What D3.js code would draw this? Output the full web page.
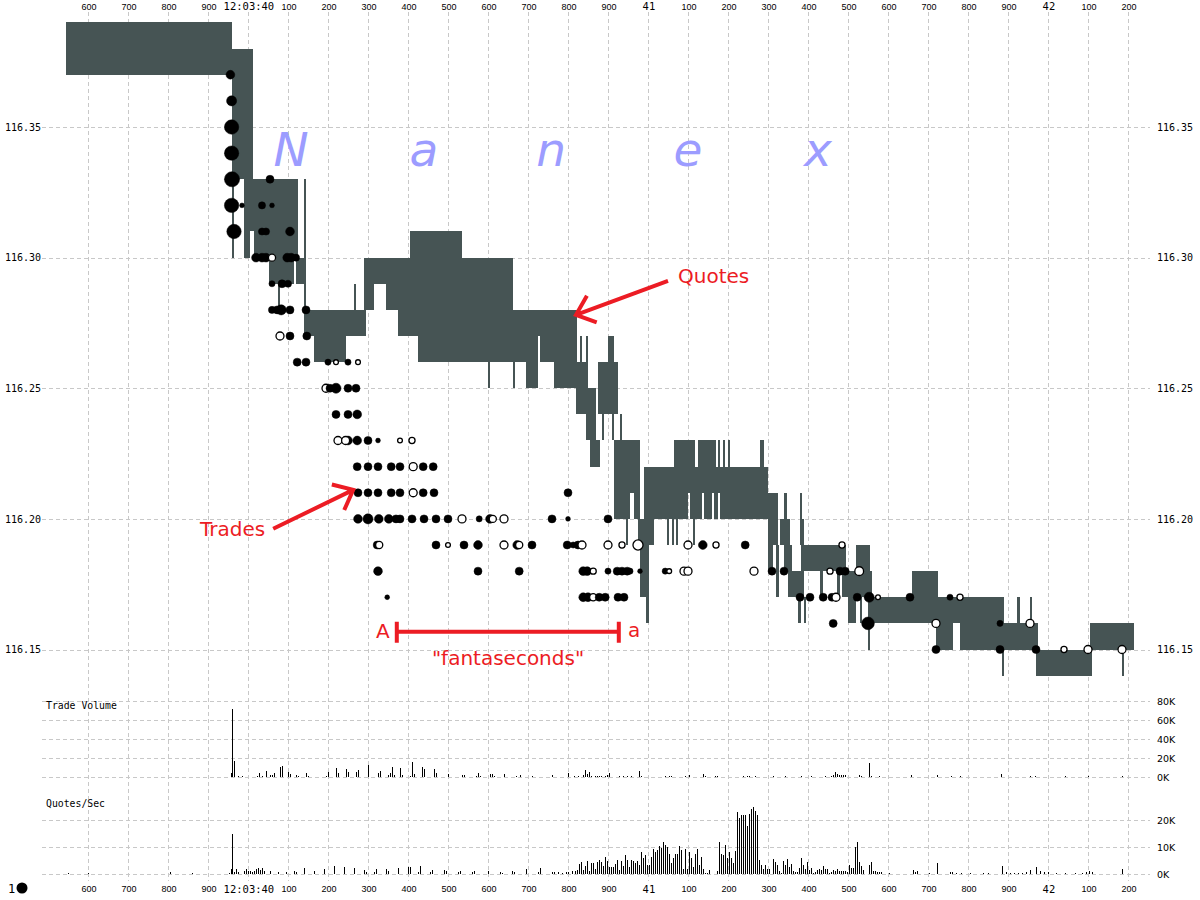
<!DOCTYPE html>
<html><head><meta charset="utf-8">
<script src="https://cdn.jsdelivr.net/npm/d3@7"></script>
<style>body{margin:0;background:#fff}svg{display:block}</style>
</head><body>
<svg id="c" width="1200" height="900"></svg>
<script>
// ---- time axis (ms from 12:03:40.000) ----
const tickMs = [-400,-300,-200,-100,0,100,200,300,400,500,600,700,800,900,1000,1100,1200,1300,1400,1500,1600,1700,1800,1900,2000,2100,2200];
const tickLabels = ["600","700","800","900","12:03:40","100","200","300","400","500","600","700","800","900","41","100","200","300","400","500","600","700","800","900","42","100","200"];
const priceTicks = [116.15,116.20,116.25,116.30,116.35];
const volTicks = [0,20,40,60,80];
const qpsTicks = [0,10,20];

// ---- quotes: [startMs, endMs, bid, ask] ----
const quotes = [
 [-456,-41,116.37,116.39],[-41,12,116.33,116.38],[-41,-36,116.30,116.33],[-11,4,116.30,116.33],[4,14,116.31,116.33],
 [14,124,116.30,116.33],[52,114,116.29,116.30],[119,141,116.29,116.30],[139,144,116.28,116.33],[74,79,116.28,116.29],
 [139,294,116.27,116.28],[164,244,116.26,116.27],[264,269,116.28,116.29],[289,314,116.28,116.30],[314,344,116.29,116.30],
 [344,374,116.28,116.30],[374,424,116.27,116.30],[424,662,116.26,116.30],[404,534,116.30,116.31],[662,724,116.26,116.28],
 [729,822,116.26,116.28],[724,729,116.27,116.28],[694,724,116.25,116.26],[764,822,116.25,116.26],[599,604,116.25,116.26],
 [662,667,116.25,116.26],[822,849,116.25,116.26],[829,834,116.26,116.27],[844,849,116.26,116.27],[819,869,116.24,116.25],
 [844,869,116.23,116.24],[854,879,116.22,116.23],[874,924,116.24,116.26],[899,914,116.26,116.27],[884,889,116.23,116.24],
 [909,914,116.23,116.24],[929,934,116.23,116.24],[914,979,116.21,116.23],[914,954,116.20,116.21],[964,979,116.20,116.21],
 [944,949,116.19,116.20],[974,979,116.19,116.20],[979,1002,116.17,116.20],[995,1002,116.16,116.17],[1002,1014,116.19,116.20],
 [989,1299,116.21,116.22],[989,1099,116.20,116.21],[1104,1134,116.20,116.21],[1139,1159,116.20,116.21],[1164,1174,116.20,116.21],
 [1179,1299,116.20,116.21],[1064,1116,116.22,116.23],[1124,1169,116.22,116.23],[1174,1179,116.22,116.23],[1186,1191,116.22,116.23],
 [1199,1204,116.22,116.23],[1279,1289,116.22,116.23],[1046,1051,116.19,116.20],[1059,1064,116.19,116.20],[1069,1074,116.19,116.20],
 [1111,1116,116.19,116.20],[1299,1324,116.19,116.21],[1329,1354,116.19,116.20],[1339,1347,116.20,116.21],[1299,1311,116.18,116.19],
 [1320,1327,116.17,116.19],[1339,1359,116.18,116.19],[1349,1389,116.17,116.18],[1374,1381,116.16,116.17],[1389,1394,116.16,116.17],
 [1379,1384,116.20,116.21],[1379,1389,116.19,116.20],[1381,1494,116.18,116.19],[1429,1436,116.17,116.18],[1471,1479,116.17,116.18],
 [1484,1559,116.17,116.18],[1499,1519,116.16,116.17],[1519,1554,116.18,116.19],[1529,1534,116.16,116.17],[1549,1554,116.15,116.16],
 [1549,1889,116.16,116.17],[1659,1724,116.17,116.18],[1719,1762,116.15,116.16],[1779,1974,116.15,116.16],[1884,1889,116.14,116.15],
 [1921,1929,116.16,116.17],[1954,1959,116.16,116.17],[1969,2109,116.14,116.15],[2104,2214,116.15,116.16],[2184,2189,116.14,116.15]
];

// ---- trades: [ms, price, size (00s), hollow] ----
const trades = [
 [-45,116.37,5,0],[-42,116.36,7,0],[-42,116.35,16,0],[-42,116.34,16,0],[-41,116.33,18,0],[54,116.33,4,0],
 [-42,116.32,16,0],[-16,116.32,1,0],[34,116.32,3,0],[59,116.32,1,0],
 [-36,116.31,16,0],[34,116.31,3,0],[44,116.31,3,0],[104,116.31,5,0],
 [19,116.30,5,0],[34,116.30,5,0],[44,116.30,5,0],[59,116.30,3,1],[97,116.30,5,0],[107,116.30,5,0],[119,116.30,3,0],
 [59,116.29,2,0],[84,116.29,4,0],[99,116.29,3,0],
 [59,116.28,3,0],[72,116.28,4,0],[82,116.28,7,0],[104,116.28,4,0],[144,116.28,4,0],
 [79,116.27,4,1],[104,116.27,4,0],[146,116.27,4,0],
 [122,116.26,4,0],[144,116.26,4,0],[199,116.26,2,0],[219,116.26,1,1],[249,116.26,2,0],[274,116.26,1,1],
 [194,116.25,4,1],[204,116.25,4,0],[219,116.25,7,0],[249,116.25,4,0],[269,116.25,4,0],
 [219,116.24,4,0],[249,116.24,4,0],[272,116.24,5,0],
 [224,116.23,4,1],[249,116.23,5,0],[243,116.23,4,1],[272,116.23,5,0],[299,116.23,4,0],[324,116.23,1,0],[379,116.23,1,1],[409,116.23,2,1],
 [272,116.22,4,0],[299,116.22,4,0],[324,116.22,4,0],[357,116.22,4,0],[379,116.22,4,0],[412,116.22,4,1],[437,116.22,4,0],[462,116.22,4,0],
 [274,116.21,4,0],[299,116.21,4,0],[324,116.21,4,0],[357,116.21,4,0],[379,116.21,4,0],[412,116.21,4,1],[437,116.21,4,0],[464,116.21,4,0],[799,116.21,4,0],
 [274,116.20,5,0],[299,116.20,7,0],[326,116.20,5,0],[351,116.20,5,0],[369,116.20,4,0],[379,116.20,4,0],[409,116.20,4,0],[439,116.20,4,0],[469,116.20,4,0],[499,116.20,4,0],[534,116.20,4,1],[577,116.20,2,0],[604,116.20,5,0],[611,116.20,3,1],[639,116.20,4,1],[759,116.20,4,0],[799,116.20,1,0],[899,116.20,4,0],
 [322,116.19,4,0],[327,116.19,3,1],[469,116.19,4,0],[499,116.19,1,1],[539,116.19,4,0],[574,116.19,5,0],[639,116.19,4,1],[672,116.19,5,0],[677,116.19,3,1],[709,116.19,4,0],[797,116.19,4,0],[812,116.19,2,0],[824,116.19,4,0],[834,116.19,4,1],[899,116.19,4,1],[934,116.19,2,1],[974,116.19,7,1],[1099,116.19,4,1],[1136,116.19,5,0],[1169,116.19,2,1],[1242,116.19,4,0],[1484,116.19,2,1],
 [324,116.18,5,0],[574,116.18,4,0],[677,116.18,4,0],[837,116.18,5,0],[847,116.18,5,0],[862,116.18,2,1],[899,116.18,2,0],[922,116.18,4,0],[934,116.18,4,0],[947,116.18,4,0],[954,116.18,2,0],[979,116.18,1,0],[1042,116.18,2,0],[1052,116.18,1,1],[1089,116.18,4,1],[1099,116.18,4,1],[1264,116.18,4,1],[1309,116.18,4,0],[1339,116.18,4,0],[1454,116.18,2,1],[1479,116.18,4,0],[1492,116.18,4,0],[1527,116.18,5,1],
 [347,116.17,1,0],[837,116.17,5,0],[849,116.17,5,0],[862,116.17,3,1],[877,116.17,4,0],[892,116.17,4,0],[924,116.17,4,0],[939,116.17,4,0],[1379,116.17,4,0],[1404,116.17,4,0],[1437,116.17,4,0],[1459,116.17,4,0],[1469,116.17,4,1],[1522,116.17,4,0],[1552,116.17,7,0],[1574,116.17,1,1],[1654,116.17,4,0],[1754,116.17,2,0],[1779,116.17,2,1],
 [1462,116.16,4,0],[1549,116.16,12,0],[1719,116.16,4,1],[1879,116.16,2,0],[1954,116.16,4,1],
 [1719,116.15,4,0],[1879,116.15,4,0],[1969,116.15,4,0],[2039,116.15,2,1],[2099,116.15,4,1],[2184,116.15,4,1]
];

// ---- trade volume (K shares): [ms, K] ----
const volume = [
 [-44,4.6],[-40,71.6],[-35,17],[-25,1],[-15,1],[21,1],[26,4.2],[35,1],[45,6.3],[55,2],[60,2],[65,4.2],[80,10.5],[85,11.6],
 [100,5.3],[105,3.2],[120,2],[125,1],[145,4.2],[150,1],[195,1],[200,5.3],[220,9.5],[225,4.2],[245,8.4],[250,5.3],[270,5.3],
 [275,7.4],[300,12.6],[325,4.2],[330,6.3],[350,2],[355,4.2],[360,10.5],[365,2],[380,9.5],[385,2],[405,1],[410,15.8],[415,3.2],
 [435,10.5],[440,8.4],[465,8.4],[470,4.2],[500,3.2],[535,2],[540,2],[570,1],[575,4.2],[580,1],[605,3.2],[610,3.2],[615,1],
 [640,3.2],[670,1],[680,2],[710,1],[760,2],[800,4.2],[815,1],[825,1],[836,2],[841,7.4],[846,3.2],[851,5.3],[856,1],[866,1],
 [871,1],[876,1],[881,1],[891,1],[896,2],[901,4.2],[926,1],[936,1],[946,1],[956,1],[976,6.3],[981,1],[1041,1],[1051,1],
 [1056,1],[1091,1],[1101,2],[1136,3.2],[1141,1],[1166,1],[1171,1],[1236,1],[1246,1],[1251,1],[1266,1],[1311,1],[1341,1],
 [1381,1],[1406,1],[1441,1],[1456,1],[1461,2],[1466,5.3],[1471,3.2],[1476,2],[1481,2],[1486,2],[1491,2],[1526,2],[1531,1],
 [1551,14.7],[1556,1],[1576,1],[1656,2],[1721,2],[1757,1],[1779,1],[1881,4],[1954,1],[1967,1],[2042,1],[2099,1],[2184,1]
];

// ---- quotes per second (K): [ms, K] ----
const qps = [
 [-451,0.3],[-401,0.3],[-196,0.8],[-141,0.3],[-49,0.4],[-44,2],[-40,15],[-35,0.6],[-30,1.8],[-25,0.6],[-10,1.2],[-5,1.8],[0,1],
 [5,1],[10,0.7],[15,1.2],[20,2],[25,2.3],[30,1.5],[35,2.3],[40,1],[55,1.2],[75,0.7],[95,0.6],[115,1.1],[120,0.7],[140,2.2],
 [165,1.2],[190,1.8],[215,3],[240,2.7],[265,2.2],[290,1.5],[295,0.7],[315,0.6],[320,1.8],[345,1.8],[350,1.2],[375,2.2],
 [400,2.7],[405,2.7],[425,0.6],[430,3],[455,0.6],[460,1.5],[490,1.5],[495,1.2],[525,0.6],[530,1.1],[560,0.6],[565,1],
 [600,1.1],[630,0.6],[635,0.4],[660,1.1],[665,0.6],[695,1.8],[725,0.6],[730,2.2],[760,0.6],[765,0.6],[775,0.6],[785,0.4],
 [795,0.6],[800,0.6],[810,1.1],[816,1.2],[821,1.6],[826,3.7],[831,4.4],[836,1.5],[841,3.1],[846,4.8],[851,1.2],[856,4.1],
 [861,4.1],[866,2],[871,4.4],[876,5.2],[881,4.4],[886,3],[891,6.3],[896,4.9],[901,2.5],[906,2.5],[911,2.6],[916,3.7],
 [921,5.2],[926,1.5],[931,4.8],[936,3],[941,7],[946,5.1],[951,2.7],[956,5.2],[961,4.9],[966,4],[971,4.8],[976,3.5],
 [981,8.1],[986,5.9],[991,7],[996,3.5],[1001,3.2],[1006,6.4],[1011,9.3],[1016,8.1],[1021,8.9],[1026,10.4],[1031,9.6],
 [1036,11.7],[1041,10.6],[1046,10],[1051,7.4],[1056,4],[1061,5.9],[1066,7.5],[1071,7.3],[1076,10.4],[1081,8.9],[1086,1.7],
 [1091,9.4],[1096,1.7],[1101,8.1],[1106,5.9],[1111,2.5],[1116,7.4],[1121,9.1],[1126,3.5],[1131,6.4],[1136,2],[1141,0.5],
 [1146,0.4],[1151,1.5],[1171,1.1],[1176,11.7],[1181,7.4],[1186,7],[1191,10.7],[1196,5.9],[1201,8.3],[1206,5.9],[1211,4.2],
 [1216,8.6],[1221,23],[1226,20.7],[1231,22],[1236,21.7],[1241,21.7],[1246,17.8],[1251,22.2],[1256,24.2],[1261,24.8],
 [1266,23.5],[1271,21.9],[1276,5.1],[1281,3.5],[1286,2],[1291,3.3],[1296,2],[1301,2],[1311,5.6],[1316,4.4],[1321,3.3],
 [1326,1.1],[1331,0.4],[1336,4.8],[1341,3.2],[1346,5.6],[1351,2.7],[1356,3.6],[1361,1],[1366,0.9],[1371,0.9],[1376,2.2],
 [1381,5.9],[1386,3.5],[1391,2],[1396,4.4],[1401,1.5],[1406,2.3],[1411,0.5],[1416,0.9],[1421,1.6],[1426,2],[1431,1.5],
 [1436,3],[1441,2],[1446,2],[1451,0.5],[1456,0.9],[1461,1.5],[1466,1.1],[1471,2],[1476,1.2],[1481,1.2],[1486,1.2],[1491,1.2],
 [1496,0.9],[1501,3.5],[1506,2.3],[1511,2.1],[1516,10.1],[1521,11.9],[1526,4.4],[1531,3.1],[1536,1.5],[1551,3.3],[1556,4.4],
 [1561,1],[1566,1],[1571,0.6],[1576,0.6],[1581,0.6],[1601,0.4],[1661,1.5],[1666,0.6],[1671,1],[1701,0.2],[1721,4.1],
 [1753,0.9],[1759,0.9],[1769,0.5],[1781,0.5],[1804,0.4],[1836,0.4],[1849,0.4],[1884,3],[1894,0.7],[1904,0.5],[1914,0.5],
 [1924,0.5],[1934,0.5],[1944,0.7],[1954,1.5],[1969,2.7],[1979,1],[1989,0.7],[1999,0.7],[2019,0.3],[2042,0.3],[2067,0.3],
 [2084,0.3],[2094,0.9],[2102,1.2],[2109,0.9],[2184,2]
];

// ---- annotations (data coordinates) ----
const watermark = [["N",107],["a",439],["n",757],["e",1099],["x",1424]];
const watermarkPrice = 116.3351;

// ================= drawing =================
const svg = d3.select("#c");
const x = d3.scaleLinear().domain([-400,2200]).range([88.4,1128.4]);
const y = d3.scaleLinear().domain([116.15,116.35]).range([649.5,127]);
const yVol = d3.scaleLinear().domain([0,80]).range([777.3,701.3]);
const yQps = d3.scaleLinear().domain([0,20]).range([874,820]);
const r = d3.scaleSqrt().domain([0,16]).range([0.8,7.2]);
const L = 42, R = 1150;
const QCOL = "#465454", RED = "#ec1c24";
const mono = "'DejaVu Sans Mono', monospace";

// grid
const g = svg.append("g").attr("stroke","#c8c8c8").attr("stroke-dasharray","4,3").attr("shape-rendering","crispEdges");
g.selectAll(".gv").data(tickMs).join("line")
 .attr("x1",d=>Math.round(x(d))+0.5).attr("x2",d=>Math.round(x(d))+0.5).attr("y1",12).attr("y2",881);
g.selectAll(".gp").data(priceTicks).join("line")
 .attr("x1",L).attr("x2",R).attr("y1",d=>Math.round(y(d))+0.5).attr("y2",d=>Math.round(y(d))+0.5);
g.selectAll(".gvol").data(volTicks).join("line")
 .attr("x1",L).attr("x2",R).attr("y1",d=>Math.round(yVol(d))+0.5).attr("y2",d=>Math.round(yVol(d))+0.5);
g.selectAll(".gq").data(qpsTicks).join("line")
 .attr("x1",L).attr("x2",R).attr("y1",d=>Math.round(yQps(d))+0.5).attr("y2",d=>Math.round(yQps(d))+0.5);

// watermark
svg.append("g").selectAll("text").data(watermark).join("text")
 .attr("x",d=>x(d[1])).attr("y",y(watermarkPrice)).attr("text-anchor","middle")
 .attr("font-family","'DejaVu Sans', sans-serif").attr("font-style","italic").attr("font-size",47)
 .attr("fill","#9c9cff").text(d=>d[0]);

// quotes
svg.append("g").attr("shape-rendering","crispEdges").selectAll("rect").data(quotes).join("rect")
 .attr("x",d=>Math.round(x(d[0])))
 .attr("width",d=>Math.max(2,Math.round(x(d[1]))-Math.round(x(d[0]))))
 .attr("y",d=>Math.round(y(d[3])))
 .attr("height",d=>Math.round(y(d[2]))-Math.round(y(d[3])))
 .attr("fill",QCOL);

// trades
svg.append("g").selectAll("circle").data(trades).join("circle")
 .attr("cx",d=>x(d[0])).attr("cy",d=>y(d[1])).attr("r",d=>r(d[2]))
 .attr("fill",d=>d[3]?"#fff":"#000").attr("stroke","#000").attr("stroke-width",d=>d[3]?1.3:0.5);

// volume bars
svg.append("g").attr("shape-rendering","crispEdges").selectAll("rect").data(volume).join("rect")
 .attr("x",d=>Math.round(x(d[0]))).attr("width",1)
 .attr("y",d=>Math.round(yVol(d[1]))).attr("height",d=>Math.max(1,Math.round(yVol(0))-Math.round(yVol(d[1]))))
 .attr("fill","#000");
svg.append("g").attr("shape-rendering","crispEdges").selectAll("rect").data(qps).join("rect")
 .attr("x",d=>Math.round(x(d[0]))).attr("width",1)
 .attr("y",d=>Math.round(yQps(d[1]))).attr("height",d=>Math.max(1,Math.round(yQps(0))-Math.round(yQps(d[1]))))
 .attr("fill","#000");

// axes
function styleTime(sel){
  sel.select(".domain").remove();
  sel.selectAll(".tick line").remove();
  sel.selectAll(".tick text").each(function(d,i){
    const big = tickLabels[i].length !== 3;
    d3.select(this).attr("font-family", big?mono:"'Liberation Sans', Arial, sans-serif")
      .attr("font-size", big?10.5:9).attr("fill","#000");
  });
}
svg.append("g").attr("transform","translate(0,10)")
 .call(d3.axisTop(x).tickValues(tickMs).tickFormat((d,i)=>tickLabels[i]).tickSize(0).tickPadding(0)).call(styleTime);
svg.append("g").attr("transform","translate(0,886)")
 .call(d3.axisBottom(x).tickValues(tickMs).tickFormat((d,i)=>tickLabels[i]).tickSize(0).tickPadding(0)).call(styleTime);

function styleY(sel, fam, fs){
  sel.select(".domain").remove();
  sel.selectAll(".tick line").remove();
  sel.selectAll(".tick text").attr("font-family",fam).attr("font-size",fs).attr("fill","#000");
}
svg.append("g").attr("transform","translate(41,0)")
 .call(d3.axisLeft(y).tickValues(priceTicks).tickFormat(d3.format(".2f")).tickSize(0).tickPadding(0)).call(styleY,mono,10);
svg.append("g").attr("transform","translate(1157,0)")
 .call(d3.axisRight(y).tickValues(priceTicks).tickFormat(d3.format(".2f")).tickSize(0).tickPadding(0)).call(styleY,mono,10);
svg.append("g").attr("transform","translate(1157,0)")
 .call(d3.axisRight(yVol).tickValues(volTicks).tickFormat(d=>d+"K").tickSize(0).tickPadding(0)).call(styleY,"'DejaVu Sans', sans-serif",9.5);
svg.append("g").attr("transform","translate(1157,0)")
 .call(d3.axisRight(yQps).tickValues(qpsTicks).tickFormat(d=>d+"K").tickSize(0).tickPadding(0)).call(styleY,"'DejaVu Sans', sans-serif",9.5);

// panel titles
svg.append("text").attr("x",46).attr("y",yVol(80)+8).attr("font-family",mono).attr("font-size",9.8).text("Trade Volume");
svg.append("text").attr("x",46).attr("y",yQps(20)-13).attr("font-family",mono).attr("font-size",9.8).text("Quotes/Sec");

// legend bottom-left
svg.append("text").attr("x",8).attr("y",893).attr("font-family",mono).attr("font-size",12).text("1");
svg.append("circle").attr("cx",22).attr("cy",888).attr("r",5.5).attr("fill","#000");

// ---- red annotations ----
const ann = svg.append("g");
function arrow(fromMs, fromP, toMs, toP){
  const x0=x(fromMs), y0=y(fromP), x1=x(toMs), y1=y(toP);
  const a = Math.atan2(y0-y1, x0-x1), L2 = 22, da = 40*Math.PI/180;
  ann.append("path")
   .attr("d", `M${x0},${y0}L${x1},${y1}M${x1+L2*Math.cos(a+da)},${y1+L2*Math.sin(a+da)}L${x1},${y1}L${x1+L2*Math.cos(a-da)},${y1+L2*Math.sin(a-da)}`)
   .attr("fill","none").attr("stroke",RED).attr("stroke-width",4).attr("stroke-linejoin","miter");
}
arrow(1049,116.2911,819,116.2781);
arrow(62,116.1962,262,116.2111);
const redFont = "'DejaVu Sans', Verdana, sans-serif";
ann.append("text").attr("x",x(1074)).attr("y",y(116.2903)).attr("fill",RED).attr("font-family",redFont).attr("font-size",20).text("Quotes");
ann.append("text").attr("x",x(-121)).attr("y",y(116.1935)).attr("fill",RED).attr("font-family",redFont).attr("font-size",20).text("Trades");
ann.append("text").attr("x",x(319)).attr("y",y(116.1545)).attr("fill",RED).attr("font-family",redFont).attr("font-size",20).text("A");
ann.append("text").attr("x",x(949)).attr("y",y(116.1549)).attr("fill",RED).attr("font-family",redFont).attr("font-size",20).text("a");
ann.append("text").attr("x",x(649)).attr("y",y(116.1442)).attr("text-anchor","middle").attr("fill",RED).attr("font-family",redFont).attr("font-size",20).text("\"fantaseconds\"");
const by = y(116.1568);
ann.append("path")
 .attr("d",`M${x(371)},${by}L${x(926)},${by}M${x(371)},${by-10}L${x(371)},${by+11}M${x(926)},${by-10}L${x(926)},${by+11}`)
 .attr("stroke",RED).attr("stroke-width",4).attr("fill","none");
</script>
</body></html>
